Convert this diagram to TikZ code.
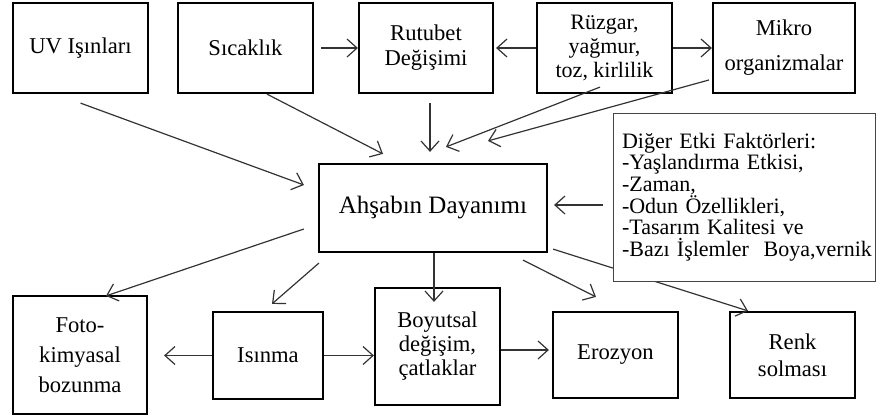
\documentclass[tikz,border=0pt]{standalone}
\usepackage{fontspec}
\setmainfont{Liberation Serif}
\usetikzlibrary{arrows.meta}
\definecolor{arrowgray}{HTML}{333333}
\definecolor{framegray}{HTML}{444444}

\tikzset{
  box/.style={draw=black, line width=1.1pt, fill=white, inner sep=0pt, align=center,
    font=\fontsize{11.3}{12.5}\selectfont},
  arr/.style={draw=arrowgray, line width=0.6pt, -{Straight Barb[length=5pt,width=9pt]}},
}

\begin{document}
\begin{tikzpicture}[x=0.5pt, y=-0.5pt]
              \useasboundingbox (0,0) rectangle (880,419);

              % Top row of factors
              \node[box, minimum width=67.5pt, minimum height=45pt] (uv) at (80.5,48) {UV Işınları};
              \node[box, minimum width=67.5pt, minimum height=45pt] (sic) at (245.5,48) {Sıcaklık};
              \node[box, minimum width=67pt, minimum height=45pt] (rut) at (426,48) {Rutubet\\ Değişimi};
              \node[box, minimum width=67.5pt, minimum height=45pt, font=\fontsize{11}{12}\selectfont] (ruz) at (604.5,48) {Rüzgar,\\ yağmur,\\ toz, kirlilik};
              \node[box, minimum width=71pt, minimum height=45pt, font=\fontsize{11.3}{17.5}\selectfont] (mik) at (784,48) {Mikro\\ organizmalar};

              % Central box
              \node[box, minimum width=114pt, minimum height=44pt, font=\fontsize{12.5}{14}\selectfont] (ad) at (433,208) {Ahşabın Dayanımı};

              % Bottom row of effects
              \node[box, minimum width=67pt, minimum height=59pt, font=\fontsize{11.3}{15}\selectfont] (foto) at (80,355) {Foto-\\ kimyasal\\ bozunma};
              \node[box, minimum width=55pt, minimum height=43.5pt] (isi) at (268,355.5) {Isınma};
              \node[box, minimum width=62.5pt, minimum height=58.5pt, font=\fontsize{11.3}{12}\selectfont] (boy) at (437.5,346.5) {Boyutsal\\ değişim,\\ çatlaklar};
              \node[box, minimum width=62.5pt, minimum height=43pt] (ero) at (615.5,355) {Erozyon};
              \node[box, minimum width=62.5pt, minimum height=43pt, font=\fontsize{11.3}{13.3}\selectfont] (renk) at (792.5,355) {Renk\\ solması};

              % Arrow running under the side box
              \draw[arr] ([xshift=2.5pt,yshift=2pt]ad.south east) -- ([xshift=-22.25pt]renk.north);

              % Side box with other factors
              \node[draw=framegray, line width=0.5pt, fill=white, inner xsep=4.5pt, inner ysep=0pt, text width=122pt, minimum height=84pt, align=left, font=\fontsize{11}{10.8}\selectfont] (dig) at (744,197)
                {Diğer Etki Faktörleri:\\ -Yaşlandırma Etkisi,\\ -Zaman,\\ -Odun Özellikleri,\\ -Tasarım Kalitesi ve\\ \mbox{-Bazı İşlemler\ \ Boya,vernik}};

              % Arrows along the top row
              \draw[arr, shorten <=3.5pt] (sic) -- (rut);
              \draw[arr, shorten >=1pt] (ruz) -- (rut);
              \draw[arr] (ruz) -- (mik);

              % Arrows into the central box
              \draw[arr] ([yshift=-4.5pt]uv.south) -- ([xshift=-7pt,yshift=11.5pt]ad.west);
              \draw[arr] ([xshift=10.75pt]sic.south) -- ([xshift=-25pt,yshift=4.5pt]ad.north);
              \draw[arr] ([xshift=2pt,yshift=-4.5pt]rut.south) -- ([xshift=-1.5pt,yshift=5.5pt]ad.north);
              \draw[arr] ([xshift=-2.25pt,yshift=3.5pt]ruz.south) -- ([xshift=6.5pt,yshift=8pt]ad.north);
              \draw[arr] ([xshift=-1.5pt,yshift=-16pt]mik.west) -- ([xshift=27.5pt,yshift=11pt]ad.north);
              \draw[arr] ([xshift=-5pt,yshift=-4pt]dig.west) -- ([xshift=3pt,yshift=1.5pt]ad.east);

              % Arrows out of the central box
              \draw[arr] ([xshift=-7pt,yshift=-10.5pt]ad.west) -- ([xshift=13pt,yshift=-0.5pt]foto.north);
              \draw[arr] ([xshift=0.5pt,yshift=-5pt]ad.south west) -- ([xshift=2pt,yshift=3.5pt]isi.north);
              \draw[arr] ([xshift=0.5pt]ad.south) -- ([xshift=-1.75pt,yshift=-7.5pt]boy.north);
              \draw[arr] ([xshift=45pt,yshift=-3.5pt]ad.south) -- ([xshift=-9.75pt,yshift=7pt]ero.north);

              % Arrows along the bottom row
              \draw[arr, shorten >=8pt] (isi.west) -- (isi.west -| foto.east);
              \draw[arr] (isi.east) -- (isi.east -| boy.west);
              \draw[arr, shorten >=1.5pt] ([yshift=-1.75pt]boy.east) -- ([yshift=-1.75pt]boy.east -| ero.west);
            \end{tikzpicture}
\end{document}
